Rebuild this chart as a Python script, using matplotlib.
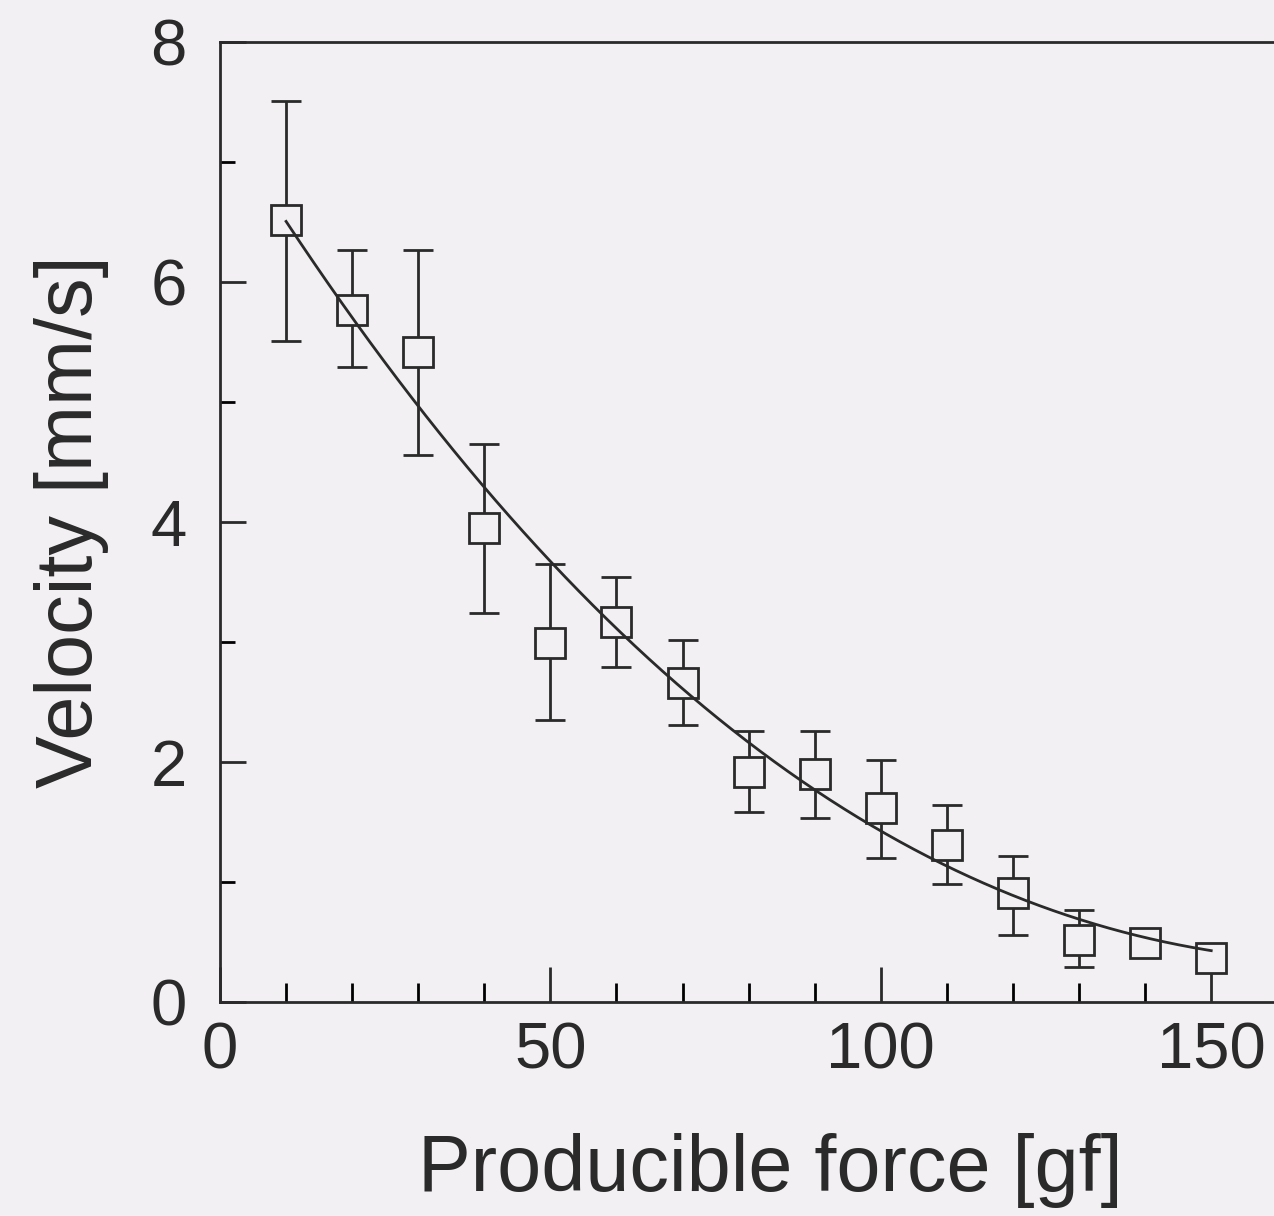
import numpy as np
import matplotlib
matplotlib.use("Agg")
import matplotlib.pyplot as plt
from matplotlib.ticker import MultipleLocator

# data
force = [10, 20, 30, 40, 50, 60, 70, 80, 90, 100, 110, 120, 130, 140, 150]
velocity = [6.52, 5.77, 5.42, 3.95, 2.99, 3.17, 2.66, 1.92, 1.90, 1.62, 1.31, 0.91, 0.52, 0.49, 0.37]
err_upper = [7.51, 6.27, 6.27, 4.65, 3.65, 3.54, 3.02, 2.26, 2.26, 2.02, 1.64, 1.22, 0.77, 0.49, 0.37]
err_lower = [5.51, 5.29, 4.56, 3.24, 2.35, 2.79, 2.31, 1.58, 1.53, 1.20, 0.98, 0.56, 0.29, 0.49, 0.37]

# points along the drawn fit curve
curve_x = [10, 20, 30, 40, 50, 60, 70, 80, 90, 100, 110, 120, 130, 140, 150]
curve_y = [6.43, 5.78, 5.02, 4.29, 3.66, 3.08, 2.60, 2.10, 1.75, 1.48, 1.18, 0.90, 0.67, 0.52, 0.43]

bg = "#f3f0f3"
ink = "#2a2a2a"
plt.rcParams["font.family"] = ["Liberation Sans", "DejaVu Sans"]

fig = plt.figure(figsize=(12.74, 12.16), dpi=100, facecolor=bg)
ax = fig.add_axes([220/1274, 1 - 1002/1216, 1 - 220/1274, (1002 - 42)/1216])
ax.set_facecolor(bg)

v = np.array(velocity)
yerr = [v - np.array(err_lower), np.array(err_upper) - v]
ax.errorbar(force, velocity, yerr=yerr, fmt="s", color=ink,
            markerfacecolor=bg, markeredgecolor=ink, markersize=21,
            markeredgewidth=2, elinewidth=2, capsize=11, capthick=2,
            zorder=2)

# smooth curve through the points
coef = np.polyfit(curve_x, curve_y, 3)
xs = np.linspace(10, 150, 200)
ax.plot(xs, np.polyval(coef, xs), color=ink, lw=2, zorder=3)

ax.set_xlim(0, 159.5)
ax.set_ylim(0, 8)
ax.xaxis.set_major_locator(MultipleLocator(50))
ax.xaxis.set_minor_locator(MultipleLocator(10))
ax.yaxis.set_major_locator(MultipleLocator(2))
ax.yaxis.set_minor_locator(MultipleLocator(1))

ax.tick_params(axis="x", which="major", direction="in", length=25, width=2,
               pad=14, labelsize=47, colors=ink)
ax.tick_params(axis="x", which="minor", direction="in", length=14, width=2)
ax.tick_params(axis="y", which="major", direction="in", length=19, width=2,
               pad=24, labelsize=47, colors=ink)
ax.tick_params(axis="y", which="minor", direction="in", length=11, width=2)

for s in ["left", "bottom", "top"]:
    ax.spines[s].set_linewidth(2)
    ax.spines[s].set_color(ink)
ax.spines["right"].set_visible(False)

ax.set_xlabel("Producible force [gf]", fontsize=57, color=ink, labelpad=37)
ax.xaxis.label.set_x(0.522)
ax.set_ylabel("Velocity [mm/s]", fontsize=57, color=ink, labelpad=30)

fig.savefig("out.png", dpi=100, facecolor=bg)
